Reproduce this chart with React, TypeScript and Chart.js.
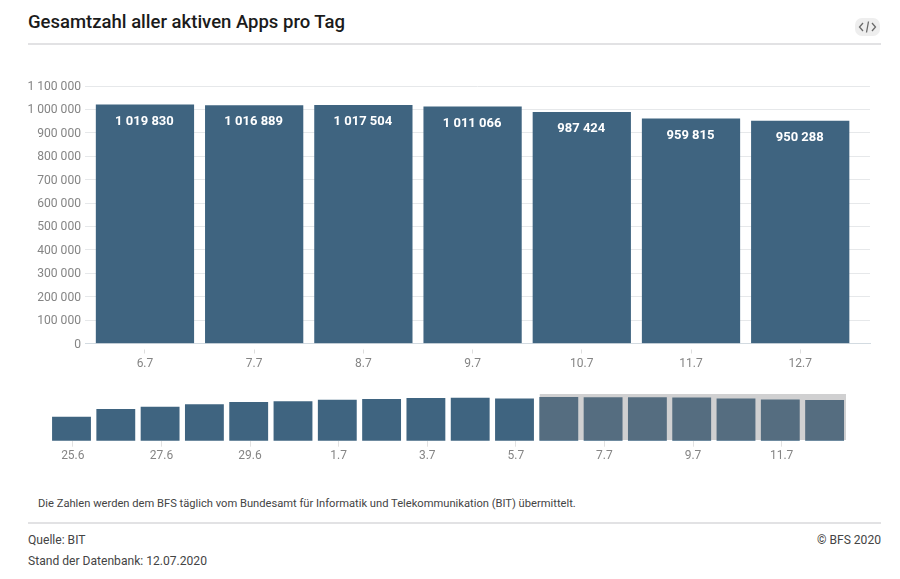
import React, { useEffect, useRef } from "react";
import { Chart, registerables } from "chart.js";

Chart.register(...registerables);

const mainDates = ["6.7", "7.7", "8.7", "9.7", "10.7", "11.7", "12.7"];
const mainValues = [1019830, 1016889, 1017504, 1011066, 987424, 959815, 950288];
const overviewDates = ["25.6", "26.6", "27.6", "28.6", "29.6", "30.6", "1.7", "2.7", "3.7", "4.7", "5.7", "6.7", "7.7", "8.7", "9.7", "10.7", "11.7", "12.7"];
const overviewValues = [558000, 740000, 794000, 848000, 905000, 920000, 959000, 975000, 999000, 1006000, 989000, 1019830, 1016889, 1017504, 1011066, 987424, 959815, 950288];
const overviewTickIndexes = [0, 2, 4, 6, 8, 10, 12, 14, 16];

const BAR = "#3f6480";
const FONT = "Roboto";
const fmt = (v: number) => String(Math.round(v)).replace(/\B(?=(\d{3})+(?!\d))/g, " ");

const valueLabels = {
  id: "valueLabels",
  afterDatasetsDraw(chart: any) {
    const { ctx } = chart;
    const meta = chart.getDatasetMeta(0);
    ctx.save();
    ctx.fillStyle = "#ffffff";
    ctx.font = `700 13px ${FONT}`;
    ctx.textAlign = "center";
    ctx.textBaseline = "middle";
    meta.data.forEach((el: any, i: number) => {
      ctx.fillText(fmt(mainValues[i]), el.x - 0.5, el.y + 16.5);
    });
    ctx.restore();
  },
};

const brush = {
  id: "brush",
  afterDatasetsDraw(chart: any) {
    const { ctx, chartArea } = chart;
    const x = chart.scales.x;
    const from = x.getPixelForValue(10.57);
    const to = x.getPixelForValue(x.max);
    ctx.save();
    ctx.fillStyle = "rgba(125,125,128,0.36)";
    ctx.fillRect(from, chartArea.top, to - from, chartArea.bottom - chartArea.top - 0.7);
    ctx.restore();
  },
};

function MainChart() {
  const ref = useRef<HTMLCanvasElement>(null);
  useEffect(() => {
    const chart = new Chart(ref.current as HTMLCanvasElement, {
      type: "bar",
      data: {
        datasets: [{
          data: mainValues.map((y, x) => ({ x, y })),
          backgroundColor: BAR,
          barThickness: 97.6,
        }],
      },
      options: {
        animation: false,
        responsive: false,
        layout: { padding: { top: 16, right: 30, left: 0, bottom: 0 } },
        plugins: { legend: { display: false }, tooltip: { enabled: false } },
        scales: {
          x: {
            type: "linear",
            offset: false,
            min: -0.549,
            max: 6.639,
            grid: { offset: false, drawOnChartArea: false, tickLength: 10, tickColor: "#dddddd", tickBorderDash: [0, 5.5, 4.5, 10] },
            border: { display: true, color: "#d3dbe1", width: 1 },
            afterBuildTicks: (s: any) => { s.ticks = mainDates.map((_, i) => ({ value: i })); },
            afterFit: (s: any) => { s.height = 36.5; },
            ticks: {
              autoSkip: false,
              maxRotation: 0,
              padding: 3,
              color: "#858585",
              font: { family: FONT, size: 12 },
              callback: (v: any) => mainDates[Math.round(Number(v))],
            },
          },
          y: {
            min: 0,
            max: 1100000,
            afterFit: (s: any) => { s.width = 85; },
            grid: { color: "#e6e8ea", tickLength: 0 },
            border: { display: false },
            ticks: {
              stepSize: 100000,
              padding: 4,
              labelOffset: 1,
              color: "#858585",
              font: { family: FONT, size: 12.1 },
              callback: (v: any) => fmt(Number(v)),
            },
          },
        },
      },
      plugins: [valueLabels],
    } as any);
    return () => chart.destroy();
  }, []);
  return <canvas ref={ref} width={900} height={310} style={{ position: "absolute", left: 0, top: 70, display: "block" }} />;
}

function OverviewChart() {
  const ref = useRef<HTMLCanvasElement>(null);
  useEffect(() => {
    const chart = new Chart(ref.current as HTMLCanvasElement, {
      type: "bar",
      data: {
        datasets: [{
          data: overviewValues.map((y, x) => ({ x, y })),
          backgroundColor: BAR,
          barThickness: 38.2,
        }],
      },
      options: {
        animation: false,
        responsive: false,
        layout: { padding: { top: 14, right: 54, left: 50, bottom: 0 } },
        plugins: { legend: { display: false }, tooltip: { enabled: false } },
        scales: {
          x: {
            type: "linear",
            offset: false,
            min: -0.4853,
            max: 17.483,
            grid: { offset: false, drawOnChartArea: false, tickLength: 6, tickColor: "#e2e2e2" },
            border: { display: false },
            afterBuildTicks: (s: any) => { s.ticks = overviewTickIndexes.map((i) => ({ value: i + 0.03 })); },
            afterFit: (s: any) => { s.height = 29.3; },
            ticks: {
              autoSkip: false,
              maxRotation: 0,
              padding: 2,
              color: "#858585",
              font: { family: FONT, size: 12 },
              callback: (v: any) => overviewDates[Math.round(Number(v))],
            },
          },
          y: { display: false, min: 0, max: 1100000 },
        },
      },
      plugins: [brush],
    } as any);
    return () => chart.destroy();
  }, []);
  return <canvas ref={ref} width={900} height={90} style={{ position: "absolute", left: 0, top: 380, display: "block" }} />;
}

const textBase: React.CSSProperties = { position: "absolute", fontFamily: FONT, whiteSpace: "nowrap", lineHeight: "16px" };
const rule = (top: number): React.CSSProperties => ({ position: "absolute", left: 28, width: 853, top, height: 2, background: "#e2e2e4" });

export default function App() {
  return (
    <div style={{ position: "absolute", left: 0, top: 0, width: 900, height: 579, background: "#fff", overflow: "hidden" }}>
      <div style={{ ...textBase, left: 28, top: 10, lineHeight: "24px", fontSize: 18.5, fontWeight: 500, color: "#1b1b1b" }}>Gesamtzahl aller aktiven Apps pro Tag</div>
      <div style={{ position: "absolute", left: 855, top: 18, width: 25, height: 18, borderRadius: 7, background: "#eeeeee" }}>
        <svg width="25" height="18" viewBox="0 0 25 18">
          <path d="M8 5 L4.5 9 L8 13 M17 5 L20.5 9 L17 13 M13.5 3.5 L11.5 14.5" fill="none" stroke="#6a6a6a" strokeWidth="1.3" />
        </svg>
      </div>
      <div style={rule(43)} />
      <MainChart />
      <OverviewChart />
      <div style={{ ...textBase, left: 38, top: 496, fontSize: 11.16, color: "#444" }}>Die Zahlen werden dem BFS täglich vom Bundesamt für Informatik und Telekommunikation (BIT) übermittelt.</div>
      <div style={rule(522)} />
      <div style={{ ...textBase, left: 28, top: 532, fontSize: 12.1, color: "#444" }}>Quelle: BIT</div>
      <div style={{ ...textBase, left: 28, top: 553, fontSize: 12.1, color: "#444" }}>Stand der Datenbank: 12.07.2020</div>
      <div style={{ ...textBase, right: 19, top: 532, fontSize: 12.1, color: "#444" }}>© BFS 2020</div>
    </div>
  );
}
